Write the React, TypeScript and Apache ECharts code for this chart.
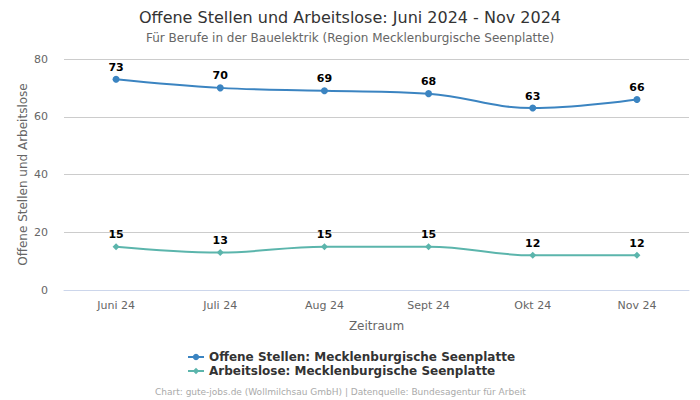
import React, { useEffect, useRef } from "react";
import * as echarts from "echarts";

const categories = ["Juni 24", "Juli 24", "Aug 24", "Sept 24", "Okt 24", "Nov 24"];
const offeneStellen = [73, 70, 69, 68, 63, 66];
const arbeitslose = [15, 13, 15, 15, 12, 12];
const yTicks = { min: 0, max: 80, interval: 20 };

const FONT = "DejaVu Sans";

export default function App() {
  const ref = useRef<HTMLDivElement>(null);
  useEffect(() => {
    if (!ref.current) return;
    const chart = echarts.init(ref.current, undefined, { renderer: "svg" });
    chart.setOption({
      animation: false,
      textStyle: { fontFamily: FONT },
      title: {
        text: "Offene Stellen und Arbeitslose: Juni 2024 - Nov 2024",
        subtext: "Für Berufe in der Bauelektrik (Region Mecklenburgische Seenplatte)",
        left: "center",
        top: 4,
        itemGap: 7,
        textStyle: { fontFamily: FONT, fontSize: 16, fontWeight: "normal", color: "#333" },
        subtextStyle: { fontFamily: FONT, fontSize: 12, color: "#666" },
      },
      grid: { left: 64, right: 11, top: 59, bottom: 110 },
      legend: {
        orient: "vertical",
        left: 182,
        top: 346,
        itemGap: 2,
        itemWidth: 16,
        itemHeight: 8,
        textStyle: { fontFamily: FONT, fontSize: 12, fontWeight: "bold", color: "#333" },
        data: [
          "Offene Stellen: Mecklenburgische Seenplatte",
          "Arbeitslose: Mecklenburgische Seenplatte",
        ],
      },
      graphic: [
        {
          type: "text",
          left: 155,
          top: 387,
          style: {
            text: "Chart: gute-jobs.de (Wollmilchsau GmbH) | Datenquelle: Bundesagentur für Arbeit",
            fontFamily: FONT,
            fontSize: 9,
            fill: "#aaa",
          },
        },
      ],
      xAxis: {
        type: "category",
        data: categories,
        name: "Zeitraum",
        nameLocation: "middle",
        nameGap: 30,
        nameTextStyle: { fontFamily: FONT, fontSize: 12, color: "#666" },
        axisLine: { lineStyle: { color: "#ccd6eb" } },
        axisTick: { show: false },
        axisLabel: { fontFamily: FONT, fontSize: 11, color: "#666", margin: 10 },
      },
      yAxis: {
        type: "value",
        min: yTicks.min,
        max: yTicks.max,
        interval: yTicks.interval,
        name: "Offene Stellen und Arbeitslose",
        nameLocation: "middle",
        nameGap: 35,
        nameMoveOverlap: false,
        nameTextStyle: { fontFamily: FONT, fontSize: 12, color: "#666" },
        axisLabel: { fontFamily: FONT, fontSize: 11, color: "#666", margin: 16 },
        splitLine: { lineStyle: { color: "#ccc" } },
      },
      series: [
        {
          name: "Offene Stellen: Mecklenburgische Seenplatte",
          type: "line",
          data: offeneStellen,
          smooth: 0.4,
          symbol: "circle",
          symbolSize: 7,
          color: "#3b84c1",
          lineStyle: { width: 2 },
          label: {
            show: true,
            position: "top",
            distance: 3,
            fontFamily: FONT,
            fontSize: 11,
            fontWeight: "bold",
            color: "#000",
          },
        },
        {
          name: "Arbeitslose: Mecklenburgische Seenplatte",
          type: "line",
          data: arbeitslose,
          smooth: 0.4,
          symbol: "diamond",
          symbolSize: 7,
          color: "#5bb5ac",
          lineStyle: { width: 2 },
          label: {
            show: true,
            position: "top",
            distance: 3,
            fontFamily: FONT,
            fontSize: 11,
            fontWeight: "bold",
            color: "#000",
          },
        },
      ],
    });
    return () => chart.dispose();
  }, []);
  return <div ref={ref} style={{ width: 700, height: 400, position: "absolute", left: 0, top: 0 }} />;
}
